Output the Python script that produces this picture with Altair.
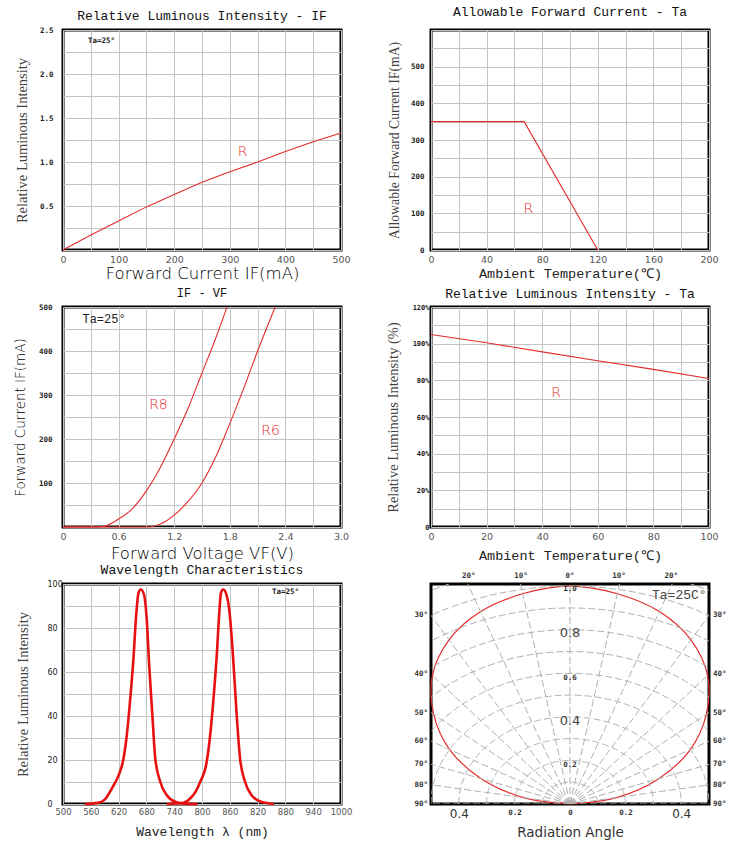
import altair as alt
import numpy as np
import pandas as pd

RED = "#e42c2c"
GRID = "#c4c4c4"
W, H = 278, 220
MONO = "Liberation Mono"
SERIF = "Liberation Serif"
SANS = "DejaVu Sans"

# ---------------- data ----------------
# Relative luminous intensity vs forward current
if_current = [0, 50, 100, 150, 200, 250, 300, 350, 400, 450, 500]
if_lum = [0, 0.17, 0.33, 0.49, 0.63, 0.77, 0.89, 1.00, 1.12, 1.23, 1.33]

# Allowable forward current vs ambient temperature (derating)
derate_temp = [0, 67, 120]
derate_current = [350, 350, 0]

# Forward current vs forward voltage
r8_vf = [0, 0.30, 0.45, 0.60, 0.75, 0.90, 1.05, 1.20, 1.35, 1.50, 1.65, 1.77]
r8_if = [0, 0, 2, 18, 42, 82, 135, 200, 270, 350, 430, 500]
r6_vf = [0, 0.90, 1.00, 1.10, 1.20, 1.35, 1.50, 1.65, 1.80, 1.95, 2.10, 2.29]
r6_if = [0, 0, 3, 12, 27, 58, 100, 160, 235, 315, 400, 500]

# Relative luminous intensity vs ambient temperature
ta_temp = [0, 20, 40, 60, 80, 100]
ta_lum = [105, 100.5, 95.5, 90.7, 86, 81]

# Emission spectrum (two peaks)
peak1_nm = [547, 575, 590, 608, 620, 629, 637, 646, 652, 658, 663, 668, 675,
            681, 686, 693, 699, 710, 724, 742, 757, 790]
peak1_val = [0, 0.5, 2, 8, 13, 19, 30, 50, 66, 86, 96, 97.5, 95,
             83, 63, 40, 21, 10, 4, 1, 0.3, 0]
peak2_nm = [724, 745, 760, 774, 786, 796, 810, 817, 826, 832, 837, 841, 846,
            853, 860, 867, 875, 882, 893, 907, 928, 955]
peak2_val = [0, 0.2, 0.5, 2.4, 5.5, 10, 19, 30, 51, 68, 86, 96, 97.5,
             95, 86, 67, 40, 21, 10, 4, 1, 0]
wl_tick_values = [500, 560, 620, 680, 740, 800, 860, 920, 980, 1040, 1100]
wl_tick_labels = ["500", "560", "620", "680", "740", "800", "860", "820",
                  "880", "940", "1000"]

# Radiation pattern
rad_angle = list(range(-90, 91, 10))
rad_intensity = [0, 0.17, 0.34, 0.50, 0.64, 0.77, 0.87, 0.94, 0.98, 1.00,
                 0.98, 0.94, 0.87, 0.77, 0.64, 0.50, 0.34, 0.17, 0]
polar_radii = [0.1, 0.2, 0.3, 0.4, 0.5, 0.6, 0.7, 0.8, 0.9, 1.0, 1.1]
polar_spokes = list(range(-90, 91, 10))
side_angles = [30, 40, 50, 60, 70, 80, 90]
top_angles = [-20, -10, 0, 10, 20]


# ---------------- helpers ----------------
def x_axis(values, title, title_font, title_size, title_y, label_expr=None,
           label_font=SANS, label_size=9.5, label_color="#555", label_pad=4,
           title_color="#333", title_weight="normal", grid=True, **extra):
    kw = dict(values=values, title=title, titleFont=title_font,
              titleFontSize=title_size, titleFontWeight=title_weight,
              titleColor=title_color, titleX=W / 2, titleY=title_y,
              titleBaseline="middle", titleAlign="center",
              labelFont=label_font, labelFontSize=label_size,
              labelColor=label_color, labelPadding=label_pad,
              labelFlush=False, labelOverlap=False, grid=grid,
              gridColor=GRID, gridWidth=1, domain=False, ticks=False)
    if label_expr:
        kw["labelExpr"] = label_expr
    kw.update(extra)
    return alt.Axis(**kw)


def y_axis(values, title, title_font, title_size, title_x, label_expr=None,
           label_font="DejaVu Sans Mono", label_size=7.5, label_color="#222",
           label_pad=8, title_color="#444", label_weight="bold",
           title_weight="normal", **extra):
    kw = dict(values=values, title=title, titleFont=title_font,
              titleFontSize=title_size, titleFontWeight=title_weight,
              titleColor=title_color, titleX=title_x, titleY=H / 2,
              titleAngle=270, titleBaseline="middle", titleAlign="center",
              labelFont=label_font, labelFontSize=label_size,
              labelFontWeight=label_weight, labelColor=label_color,
              labelPadding=label_pad, labelFlush=False, labelOverlap=False,
              grid=True, gridColor=GRID, gridWidth=1, domain=False,
              ticks=False)
    if label_expr:
        kw["labelExpr"] = label_expr
    kw.update(extra)
    return alt.Axis(**kw)


def title(text, offset, size=13):
    return alt.TitleParams(text=text, font=MONO, fontSize=size,
                           fontWeight="normal", color="#111", offset=offset,
                           anchor="middle")


def note(df, xenc, yenc, **mark):
    # annotation layer sharing the panel's own x / y encodings (same axes)
    return alt.Chart(df).mark_text(**mark).encode(x=xenc, y=yenc, text="t:N")


LABEL_STYLE = dict(font=SANS, fontSize=14, fontWeight=300, color="#e02828")

# ---------------- panel 1: luminous intensity vs IF ----------------
p1_x = alt.X("c:Q", scale=alt.Scale(domain=[0, 500], nice=False), axis=x_axis(
    list(range(0, 501, 50)), "Forward Current IF(mA)", SANS, 16.5, 23,
    "datum.value % 100 == 0 ? datum.label : ''", title_weight=200,
    title_color="#000"))
p1_y = alt.Y("v:Q", scale=alt.Scale(domain=[0, 2.5], nice=False), axis=y_axis(
    [i * 0.25 for i in range(11)], "Relative Luminous Intensity", SERIF,
    14.5, -41,
    "datum.value > 0 && datum.value % 0.5 == 0 ? format(datum.value, '.1f') : ''",
    label_pad=10))
p1_line = alt.Chart(pd.DataFrame({"c": if_current, "v": if_lum})).mark_line(
    color=RED, strokeWidth=1.1).encode(x=p1_x, y=p1_y)
p1_r = note(pd.DataFrame({"c": [323], "v": [1.11], "t": ["R"]}), p1_x, p1_y,
            **LABEL_STYLE)
p1_ta = note(pd.DataFrame({"c": [45], "v": [2.37], "t": ["Ta=25°"]}), p1_x,
             p1_y, font="DejaVu Sans Mono", fontSize=7.5, fontWeight="bold",
             color="#222", align="left")
panel1 = alt.layer(p1_line, p1_r, p1_ta).properties(
    width=W, height=H, title=title("Relative Luminous Intensity - IF", 3))

# ---------------- panel 2: derating ----------------
p2_x = alt.X("t_:Q", scale=alt.Scale(domain=[0, 200], nice=False), axis=x_axis(
    list(range(0, 201, 20)), "Ambient Temperature(℃)", MONO, 13.5, 23,
    "datum.value % 40 == 0 ? datum.label : ''", title_color="#222"))
p2_y = alt.Y("i:Q", scale=alt.Scale(domain=[0, 600], nice=False), axis=y_axis(
    list(range(0, 601, 50)), "Allowable Forward Current IF(mA)", SERIF,
    13.7, -37,
    "datum.value % 100 == 0 && datum.value < 600 ? datum.label : ''",
    label_pad=7))
p2_line = alt.Chart(pd.DataFrame({"t_": derate_temp, "i": derate_current})).mark_line(
    color=RED, strokeWidth=1.1).encode(x=p2_x, y=p2_y)
p2_r = note(pd.DataFrame({"t_": [70], "i": [112], "t": ["R"]}), p2_x, p2_y,
            **LABEL_STYLE)
panel2 = alt.layer(p2_line, p2_r).properties(
    width=W, height=H, title=title("Allowable Forward Current - Ta", 7))

# ---------------- panel 3: IF - VF ----------------
p3_x = alt.X("vf:Q", scale=alt.Scale(domain=[0, 3.0], nice=False), axis=x_axis(
    [round(0.3 * i, 1) for i in range(11)], "Forward Voltage VF(V)", SANS,
    16.5, 26,
    "round(datum.value * 10) % 6 == 0 ? (datum.value == 0 ? '0' : format(datum.value, '.1f')) : ''",
    title_weight=200, title_color="#000"))
p3_y = alt.Y("if_:Q", scale=alt.Scale(domain=[0, 500], nice=False), axis=y_axis(
    list(range(0, 501, 50)), "Forward Current IF(mA)", SANS, 13.5, -43,
    "datum.value % 100 == 0 && datum.value > 0 ? datum.label : ''",
    label_pad=11, title_color="#000", title_weight=200))
ivdf = pd.concat([
    pd.DataFrame({"vf": r8_vf, "if_": r8_if, "s": "R8"}),
    pd.DataFrame({"vf": r6_vf, "if_": r6_if, "s": "R6"}),
])
p3_line = alt.Chart(ivdf).mark_line(
    color=RED, strokeWidth=1.1, interpolate="monotone").encode(
    x=p3_x, y=p3_y, detail="s:N")
p3_lbl = note(pd.DataFrame({"vf": [1.03, 2.24], "if_": [278, 219],
                            "t": ["R8", "R6"]}), p3_x, p3_y, **LABEL_STYLE)
p3_ta = note(pd.DataFrame({"vf": [0.21], "if_": [473], "t": ["Ta=25°"]}),
             p3_x, p3_y, font=MONO, fontSize=12, color="#222", align="left")
panel3 = alt.layer(p3_line, p3_lbl, p3_ta).properties(
    width=W, height=H, title=title("IF - VF", 3, 12))

# ---------------- panel 4: luminous intensity vs Ta ----------------
p4_x = alt.X("t_:Q", scale=alt.Scale(domain=[0, 100], nice=False), axis=x_axis(
    list(range(0, 101, 10)), "Ambient Temperature(℃)", MONO, 13.5, 28,
    "datum.value % 20 == 0 ? datum.label : ''", title_color="#222"))
p4_y = alt.Y("v:Q", scale=alt.Scale(domain=[0, 120], nice=False), axis=y_axis(
    list(range(0, 121, 10)), "Relative Luminous Intensity (%)", SERIF,
    14.5, -38,
    "datum.value == 0 ? '0' : (datum.value % 20 == 0 ? datum.value + '%' : '')",
    label_pad=2, label_size=7))
p4_line = alt.Chart(pd.DataFrame({"t_": ta_temp, "v": ta_lum})).mark_line(
    color=RED, strokeWidth=1.1).encode(x=p4_x, y=p4_y)
p4_r = note(pd.DataFrame({"t_": [45], "v": [73], "t": ["R"]}), p4_x, p4_y,
            **LABEL_STYLE)
panel4 = alt.layer(p4_line, p4_r).properties(
    width=W, height=H, title=title("Relative Luminous Intensity - Ta", 2))

# ---------------- panel 5: spectrum ----------------
wl_expr = "[" + ",".join("'%s'" % s for s in wl_tick_labels) + \
    "][round((datum.value - 500) / 60)]"
p5_x = alt.X("nm:Q", scale=alt.Scale(domain=[500, 1100], nice=False), axis=x_axis(
    wl_tick_values, "Wavelength λ (nm)", MONO, 13, 27, wl_expr,
    label_size=8.5, label_pad=3, title_color="#222"))
p5_y = alt.Y("v:Q", scale=alt.Scale(domain=[0, 100], nice=False), axis=y_axis(
    list(range(0, 101, 10)), "Relative Luminous Intensity", SERIF, 14.5,
    -40, "datum.value % 20 == 0 ? datum.label : ''", label_font=SANS,
    label_size=8, label_weight="normal", label_pad=16, labelAlign="left"))
specdf = pd.concat([
    pd.DataFrame({"nm": peak1_nm, "v": peak1_val, "p": "a"}),
    pd.DataFrame({"nm": peak2_nm, "v": peak2_val, "p": "b"}),
])
p5_line = alt.Chart(specdf).mark_line(
    color="#e81010", strokeWidth=2.6, interpolate="monotone").encode(
    x=p5_x, y=p5_y, detail="p:N")
p5_ta = note(pd.DataFrame({"nm": [951], "v": [96.5], "t": ["Ta=25°"]}),
             p5_x, p5_y, font="DejaVu Sans Mono", fontSize=7.5,
             fontWeight="bold", color="#222", align="left")
panel5 = alt.layer(p5_line, p5_ta).properties(
    width=W, height=H, title=title("Wavelength Characteristics", 3))

# ---------------- panel 6: radiation pattern ----------------
p6_xs = alt.Scale(domain=[-0.5, 0.5], nice=False)
p6_ys = alt.Scale(domain=[0, 1.01], nice=False)
p6_xaxis = x_axis(
    [-0.4, -0.2, 0, 0.2, 0.4], "Radiation Angle", SANS, 13.5, 28,
    "datum.value == 0 ? '0' : format(abs(datum.value), '.1f')",
    grid=False, label_color="#333", label_pad=4,
    labelFontSize={"condition": {"test": "abs(datum.value) > 0.3", "value": 12}, "value": 7.5},
    labelFont={"condition": {"test": "abs(datum.value) > 0.3", "value": SANS}, "value": "DejaVu Sans Mono"},
    labelFontWeight={"condition": {"test": "abs(datum.value) > 0.3", "value": "normal"}, "value": "bold"})


def p6x(field):
    return alt.X(field, scale=p6_xs, axis=p6_xaxis)


def p6y(field):
    return alt.Y(field, scale=p6_ys, axis=None)


arc_a = np.arange(-90, 91, 1)
arcs = pd.DataFrame([
    {"r": r, "a": a, "x": r * np.sin(np.radians(a)), "y": r * np.cos(np.radians(a))}
    for r in polar_radii for a in arc_a])
dash = dict(color="#b0b0b0", strokeWidth=1, strokeDash=[7, 3], clip=True)
p6_arcs = alt.Chart(arcs).mark_line(**dash).encode(
    x=p6x("x:Q"), y=p6y("y:Q"), detail="r:N", order="a:Q")
p6_spokes = alt.Chart(pd.DataFrame({"deg": polar_spokes})).transform_calculate(
    x="0", y="0",
    x1="1.6 * sin(datum.deg * PI / 180)",
    y1="1.6 * cos(datum.deg * PI / 180)",
).mark_rule(**dash).encode(x=p6x("x:Q"), y=p6y("y:Q"), x2="x1:Q", y2="y1:Q")
p6_curve = alt.Chart(pd.DataFrame({"deg": rad_angle, "r": rad_intensity})).transform_calculate(
    x="datum.r * sin(datum.deg * PI / 180)",
    y="datum.r * cos(datum.deg * PI / 180)",
).mark_line(color=RED, strokeWidth=1.2, interpolate="catmull-rom").encode(
    x=p6x("x:Q"), y=p6y("y:Q"), order="deg:Q")

rad_big = pd.DataFrame({"x": [0, 0], "y": [0.785, 0.38], "t": ["0.8", "0.4"]})
rad_small = pd.DataFrame({"x": [0, 0, 0], "y": [0.987, 0.578, 0.18],
                          "t": ["1.0", "0.6", "0.2"]})
p6_big = note(rad_big, p6x("x:Q"), p6y("y:Q"), font=SANS, fontSize=13,
              color="#444")
p6_small = note(rad_small, p6x("x:Q"), p6y("y:Q"), font="DejaVu Sans Mono",
                fontSize=7.5, fontWeight="bold", color="#333")
deg_style = dict(font="DejaVu Sans Mono", fontSize=7.5, fontWeight="bold",
                 color="#333")
side_l = alt.Chart(pd.DataFrame({"deg": side_angles})).transform_calculate(
    y="max(0.5 / tan(datum.deg * PI / 180), 0)", t="datum.deg + '°'", x="-0.5")
side_r = alt.Chart(pd.DataFrame({"deg": side_angles})).transform_calculate(
    y="max(0.5 / tan(datum.deg * PI / 180), 0)", t="datum.deg + '°'", x="0.5")
p6_left = side_l.mark_text(align="right", dx=-3, **deg_style).encode(
    x=p6x("x:Q"), y=p6y("y:Q"), text="t:N")
p6_right = side_r.mark_text(align="left", dx=4, **deg_style).encode(
    x=p6x("x:Q"), y=p6y("y:Q"), text="t:N")
p6_top = alt.Chart(pd.DataFrame({"deg": top_angles})).transform_calculate(
    x="tan(datum.deg * PI / 180)", y="1.01", t="abs(datum.deg) + '°'"
).mark_text(dy=-8, **deg_style).encode(x=p6x("x:Q"), y=p6y("y:Q"), text="t:N")
p6_ta = note(pd.DataFrame({"x": [0.295], "y": [0.96], "t": ["Ta=25C°"]}),
             p6x("x:Q"), p6y("y:Q"), font=MONO, fontSize=13, color="#444",
             align="left")
panel6 = alt.layer(p6_curve, p6_arcs, p6_spokes, p6_big, p6_small, p6_left,
                   p6_right, p6_top, p6_ta).properties(width=W, height=H)

chart = alt.concat(panel1, panel2, panel3, panel4, panel5, panel6, columns=2,
                   spacing={"row": 57, "column": 90}, bounds="flush").properties(
    padding={"left": 11, "top": 4, "right": 5, "bottom": 5},
    background="white",
).configure_view(stroke="black", strokeWidth=3)

chart.save("out.html", embed_options={"renderer": "svg", "actions": False})
